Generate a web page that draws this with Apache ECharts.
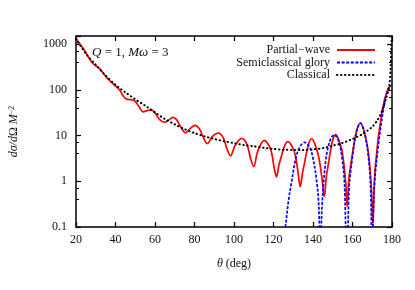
<!DOCTYPE html>
<html>
<head>
<meta charset="utf-8">
<script src="https://cdn.jsdelivr.net/npm/echarts@6/dist/echarts.min.js"></script>
<style>html,body{margin:0;padding:0;background:#fff;}#c{width:415px;height:290px;}</style>
</head>
<body>
<div id="c"></div>
<script>
// Partial-wave cross section
const pwTheta = [20,22,24,26,28,30,32,34,36,38,40,42,44,45.5,47,48.5,50,52,54,56,58,60,62.5,65,67,69,71,73,75.5,78,80.2,82.5,84.5,86.5,89,92,94.5,96.5,98.2,100.5,103.8,106.5,108.5,110,112,115.3,118.5,120.5,121.5,123,127.3,130.5,132.5,133.5,135,139.3,142.5,144.5,145.7,147,151.5,154.5,156.5,157.3,158.5,164,167.5,169.5,170.3,171.5,175,178,180];
const pwCross = [1300,1000,760,540,400,335,290,225,175,145,120,100,72,63,61,60,56,42,33,35,37,31,22,19.5,22,25,22,15.5,11.5,14.5,16.7,14,9,6.7,9.5,11.3,9,5,3.6,6,8.7,6.5,3,2.1,4.5,7.8,5,1.8,1.25,2.5,7.4,4.5,1.5,0.76,1.8,8.5,4,1.2,0.47,1.5,10.5,5,1,0.28,1.5,18.8,6,0.8,0.12,2,35,105,125];
// Semiclassical glory
const glTheta = [122,124,126,127.5,129,131.5,133.5,135.7,138,139.8,142,143,143.7,144.5,146.5,148.5,150.7,153,154.8,156,157.2,158.2,159.8,162,164,166,168.2,169.3,170,170.8,173.2,176.5,178.2,180];
const glCross = [0.005,0.03,0.1,0.35,0.9,3.5,5.8,7.1,5.8,3.5,0.9,0.25,0.01,0.25,2.96,7.5,10.4,7.5,3,0.8,0.005,0.6,3,12,18.8,12,3,0.5,0.005,0.5,6.8,60,109,125];
// Classical
const clTheta = [20,25,30,35,40,45,50,55,60,65,70,75,80,85,90,95,100,105,110,115,120,125,130,135,140,145,150,155,160,165,170,173,175,177,178.5,179.3,180];
const clCross = [1300,620,350,205,128,88,62,45,32,23,17.5,13.8,11.3,9.6,8.4,7.5,6.8,6.2,5.8,5.4,5.1,4.9,4.85,4.85,5.0,5.3,6.0,6.9,8.4,10.8,15.5,23,35,65,110,300,3000];

const xTicks = {min: 20, max: 180, interval: 20};
const yRange = {min: 0.1, max: 1500};

const zip = (a, b) => a.map((v, i) => [v, b[i]]);
const FONT = 'Liberation Serif';
const TXT = '#111';

const chart = echarts.init(document.getElementById('c'), null, {renderer: 'canvas'});
const axisLine = {show: true, lineStyle: {color: '#000', width: 1.5}};
const baseX = {
  type: 'value', min: xTicks.min, max: xTicks.max, interval: xTicks.interval,
  axisLine: axisLine, splitLine: {show: false},
  axisTick: {show: true, inside: true, length: 5, lineStyle: {color: '#000', width: 1.2}}
};
const baseY = {
  type: 'log', logBase: 10, min: yRange.min, max: yRange.max,
  axisLine: axisLine, splitLine: {show: false},
  axisTick: {show: true, inside: true, length: 5, lineStyle: {color: '#000', width: 1.2}},
  minorTick: {show: true, splitNumber: 3, length: 3, lineStyle: {color: '#000', width: 1}}
};

chart.setOption({
  animation: false,
  backgroundColor: '#fff',
  grid: {left: 72, right: 23, top: 36, bottom: 63, containLabel: false},
  xAxis: [
    Object.assign({}, baseX, {
      position: 'bottom',
      axisLabel: {show: true, margin: 7, fontFamily: FONT, fontSize: 12, color: TXT},
      name: '{i|θ} (deg)', nameLocation: 'middle', nameGap: 31,
      nameTextStyle: {fontFamily: FONT, fontSize: 12, color: TXT,
        rich: {i: {fontFamily: FONT, fontSize: 12, fontStyle: 'italic', color: TXT}}}
    }),
    Object.assign({}, baseX, {position: 'top', axisLabel: {show: false}})
  ],
  yAxis: [
    Object.assign({}, baseY, {
      position: 'left',
      axisLabel: {show: true, margin: 9, fontFamily: FONT, fontSize: 12, color: TXT, showMaxLabel: false,
        formatter: v => String(+v.toPrecision(3))},
      name: '{i|dσ/d}Ω {i|M}{sup|−2}', nameLocation: 'middle', nameRotate: 90, nameGap: 56,
      nameTextStyle: {fontFamily: FONT, fontSize: 12, color: TXT,
        rich: {
          i: {fontFamily: FONT, fontSize: 12, fontStyle: 'italic', color: TXT},
          sup: {fontFamily: FONT, fontSize: 8, color: TXT, verticalAlign: 'top', lineHeight: 8}
        }}
    }),
    Object.assign({}, baseY, {position: 'right', axisLabel: {show: false}})
  ],
  legend: {
    orient: 'vertical', right: 34, top: 39, align: 'right',
    itemWidth: 38, itemHeight: 12, itemGap: 0.5,
    itemStyle: {opacity: 0},
    textStyle: {fontFamily: FONT, fontSize: 12, color: TXT, padding: [0, 2, 0, 0]},
    data: ['Partial−wave', 'Semiclassical glory', 'Classical']
  },
  graphic: [{
    type: 'text', left: 92, top: 46,
    style: {
      text: '{i|Q} = 1, {i|Mω} = 3',
      fontFamily: FONT, fontSize: 13, fill: TXT,
      rich: {i: {fontFamily: FONT, fontSize: 13, fontStyle: 'italic', fill: TXT}}
    }
  }],
  series: [
    {
      name: 'Partial−wave', type: 'line', data: zip(pwTheta, pwCross),
      showSymbol: false, symbol: 'none', smooth: 0.35, clip: true, z: 3,
      lineStyle: {color: '#ff0000', width: 1.7}, itemStyle: {color: '#ff0000'}
    },
    {
      name: 'Semiclassical glory', type: 'line', data: zip(glTheta, glCross),
      showSymbol: false, symbol: 'none', smooth: 0.35, clip: true, z: 4,
      lineStyle: {color: '#0000ff', width: 1.7, type: [3, 1.6]}, itemStyle: {color: '#0000ff'}
    },
    {
      name: 'Classical', type: 'line', data: zip(clTheta, clCross),
      showSymbol: false, symbol: 'none', smooth: 0.3, clip: true, z: 5,
      lineStyle: {color: '#000', width: 2, type: [0.4, 3.6], cap: 'round'}, itemStyle: {color: '#000'}
    }
  ]
});
</script>
</body>
</html>
